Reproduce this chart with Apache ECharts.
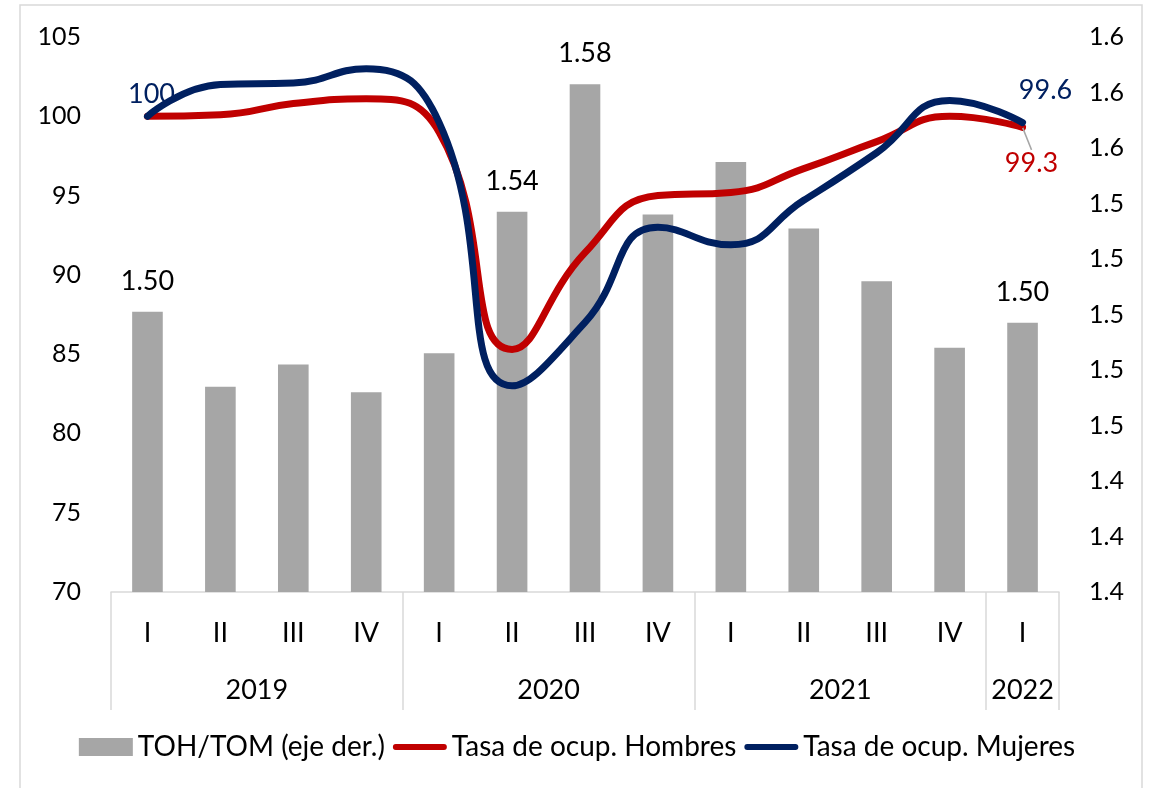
<!DOCTYPE html>
<html>
<head>
<meta charset="utf-8">
<script src="https://cdn.jsdelivr.net/npm/echarts@6/dist/echarts.min.js"></script>
<style>
html,body{margin:0;padding:0;background:#fff;}
#c{width:1154px;height:788px;}
</style>
</head>
<body>
<div id="c"></div>
<script>
// ---- data ----
const quarters = ['I','II','III','IV','I','II','III','IV','I','II','III','IV','I'];
const years = ['2019','2020','2021','2022'];
const yearCounts = [4,4,4,1];
const tohTom = [1.501,1.474,1.482,1.472,1.486,1.537,1.583,1.536,1.555,1.531,1.512,1.488,1.497];
const hombres = [100,100.1,100.8,101.1,99.0,85.3,91.4,95.0,95.2,96.7,98.4,100.0,99.3];
const mujeres = [100,102.0,102.1,103.0,99.6,83.0,87.0,93.0,91.9,94.7,97.7,101.0,99.6];
const barLabelIdx = [0,5,6,12];
const leftTicks = {min:70,max:105,interval:5};
const rightTicks = {min:1.40,max:1.60,interval:0.02};
const names = ['TOH/TOM (eje der.)','Tasa de ocup. Hombres','Tasa de ocup. Mujeres'];

// ---- derived ----
const bounds=[0]; const mids=[];
yearCounts.forEach((n,i)=>{const s=bounds[bounds.length-1]; mids.push(s+n/2); bounds.push(s+n);});
const FONT='Lato';
const FS=25;   // y axis labels
const FX=27;   // x labels, data labels
const FL=28;   // legend

const barData = tohTom.map((v,i)=>({value:v,label:{show:barLabelIdx.includes(i)}}));
const last = quarters.length-1;
const hombresData = hombres.map((v,i)=>i===last?{value:v,symbol:'circle',symbolSize:1,label:{show:true,position:'bottom',distance:4}}:v);
const mujeresData = mujeres.map((v,i)=>{
  if(i===0) return {value:v,symbol:'circle',symbolSize:1,label:{show:true,position:'top',distance:8,offset:[4,0]}};
  if(i===last) return {value:v,symbol:'circle',symbolSize:1,label:{show:true,position:'top',distance:6,offset:[23,-12]}};
  return v;
});
const lineIcon = 'path://M3,0 L53,0 A3,3 0 0 1 53,6 L3,6 A3,3 0 0 1 3,0 Z';

const chart = echarts.init(document.getElementById('c'),null,{renderer:'canvas'});
chart.setOption({
  animation:false,
  textStyle:{fontFamily:FONT},
  graphic:[{type:'rect',shape:{x:20,y:5,width:1122,height:800},style:{fill:'none',stroke:'#d9d9d9',lineWidth:1.5},silent:true}],
  grid:{left:111,right:95,top:37,bottom:196,containLabel:false},
  legend:{
    data:[{name:names[0],icon:'rect'},{name:names[1],icon:lineIcon},{name:names[2],icon:lineIcon}],
    bottom:22, left:'center', itemGap:8, itemWidth:54, itemHeight:18,
    textStyle:{fontFamily:FONT,fontSize:FL,color:'#000'}
  },
  xAxis:[
    {type:'category',data:quarters,boundaryGap:true,
     axisLine:{show:true,lineStyle:{color:'#d9d9d9',width:1.5}},
     axisTick:{show:false},
     axisLabel:{color:'#000',fontFamily:FONT,fontSize:FX,margin:28},
     splitLine:{show:false}},
    {type:'value',min:0,max:quarters.length,position:'bottom',
     axisLine:{show:false},
     axisTick:{show:true,customValues:bounds,length:118,inside:false,lineStyle:{color:'#d9d9d9',width:1.5}},
     axisLabel:{show:true,customValues:mids,margin:85,color:'#000',fontFamily:FONT,fontSize:FX,
       formatter:(v)=>{const k=mids.indexOf(v);return k>=0?years[k]:'';}},
     splitLine:{show:false}}
  ],
  yAxis:[
    {type:'value',min:leftTicks.min,max:leftTicks.max,interval:leftTicks.interval,
     axisLine:{show:false},axisTick:{show:false},splitLine:{show:false},
     axisLabel:{color:'#000',fontFamily:FONT,fontSize:FS,margin:30}},
    {type:'value',min:rightTicks.min,max:rightTicks.max,interval:rightTicks.interval,position:'right',
     axisLine:{show:false},axisTick:{show:false},splitLine:{show:false},
     axisLabel:{color:'#000',fontFamily:FONT,fontSize:FS,margin:30,formatter:(v)=>v.toFixed(1)}}
  ],
  series:[
    {name:names[0],type:'bar',xAxisIndex:0,yAxisIndex:1,data:barData,barWidth:'42%',
     itemStyle:{color:'#a6a6a6'},
     label:{show:false,position:'top',distance:17,color:'#000',fontFamily:FONT,fontSize:FX,formatter:(p)=>p.value.toFixed(2)},
     z:1},
    {name:names[1],type:'line',xAxisIndex:0,yAxisIndex:0,data:hombresData,smooth:0.5,symbol:'none',showSymbol:true,
     lineStyle:{color:'#c00000',width:7,cap:'round',join:'round'},itemStyle:{color:'#c00000'},
     label:{show:false,color:'#c00000',fontFamily:FONT,fontSize:FX},
     labelLine:{show:true,lineStyle:{color:'#a6a6a6',width:1.5}},
     labelLayout:(p)=>({dx:9,dy:18}),
     z:3},
    {name:names[2],type:'line',xAxisIndex:0,yAxisIndex:0,data:mujeresData,smooth:0.5,symbol:'none',showSymbol:true,
     lineStyle:{color:'#002060',width:7,cap:'round',join:'round'},itemStyle:{color:'#002060'},
     label:{show:false,color:'#002060',fontFamily:FONT,fontSize:FX},
     z:4}
  ]
});
</script>
</body>
</html>
